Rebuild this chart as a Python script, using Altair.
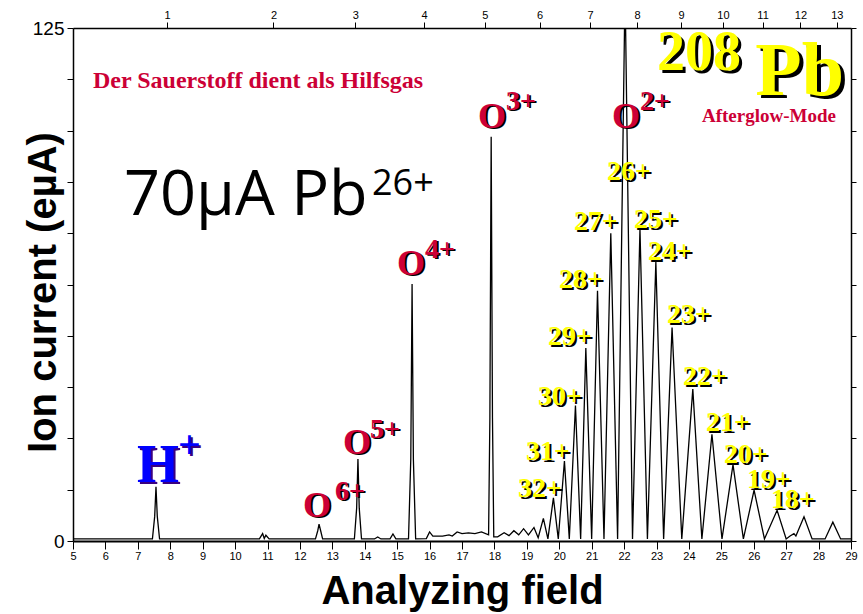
import altair as alt
import pandas as pd

# ---------------- data ----------------
SPEC_FIELD = [5.0,
              7.45, 7.52, 7.56, 7.60, 7.67,
              10.75, 10.85, 10.90, 10.95, 11.05,
              12.48, 12.55, 12.59, 12.64, 12.70,
              13.68, 13.75, 13.79, 13.83, 13.90,
              14.30, 14.40, 14.50, 14.78, 14.87, 14.96,
              15.35, 15.42, 15.46, 15.50, 15.57,
              15.90, 16.00, 16.10, 16.40, 16.60, 16.70, 16.85, 17.00, 17.20, 17.40, 17.60,
              17.82, 17.86, 17.90, 17.94, 17.98,
              18.10, 18.30, 18.45, 18.60, 18.75, 18.90, 19.05,
              19.22, 19.35, 19.51, 19.65, 19.82, 19.97, 20.16, 20.31, 20.50, 20.66,
              20.82, 21.00, 21.18, 21.38, 21.59, 21.80, 22.03, 22.26, 22.49, 22.72,
              22.98, 23.22, 23.48, 23.78, 24.12, 24.40, 24.71, 25.02, 25.36, 25.68,
              26.01, 26.33, 26.72, 27.00, 27.12, 27.24, 27.30, 27.55, 27.80,
              28.20, 28.44, 28.68, 29.0]
SPEC_CURRENT = [0.5,
                0.5, 6.0, 13.2, 6.0, 0.5,
                0.5, 1.8, 0.6, 1.4, 0.5,
                0.5, 2.5, 4.1, 2.5, 0.5,
                0.5, 8.0, 20.0, 8.0, 0.5,
                0.5, 1.0, 0.5, 0.5, 1.7, 0.5,
                0.5, 20.0, 62.6, 20.0, 0.5,
                0.6, 2.2, 1.2, 1.2, 1.5, 1.2, 2.2, 1.8, 2.0, 1.8, 2.2,
                1.5, 30.0, 98.5, 30.0, 1.0,
                1.0, 2.0, 1.3, 2.5, 1.5, 3.0, 1.5,
                3.3, 0.8, 5.5, 0.5, 10.5, 0.5, 19.5, 0.5, 33.0, 0.5,
                47.0, 0.5, 61.0, 0.5, 75.0, 0.5, 135.0, 0.5, 76.0, 0.5,
                68.0, 0.5, 52.0, 0.5, 37.0, 0.5, 26.0, 0.5, 18.6, 0.5,
                12.4, 0.5, 7.5, 0.5, 1.2, 1.8, 1.2, 5.9, 0.5,
                0.5, 4.6, 0.5, 0.5]

BOTTOM_TICKS = list(range(5, 30))
LEFT_TICKS = [0, 12.5, 25, 37.5, 50, 62.5, 75, 87.5, 100, 112.5, 125]
TOP_TICKS = list(range(1, 14))

O_TEXT = ["O", "O", "O", "O", "O"]
O_X = [12.095, 13.329, 14.995, 17.49, 21.627]
O_Y = [5.85, 21.2, 64.8, 100.6, 100.6]
O_SUP = ["6+", "5+", "4+", "3+", "2+"]
O_SUP_X = [13.082, 14.162, 15.859, 18.357, 22.49]
O_SUP_Y = [9.99, 25.1, 69.0, 105.0, 105.0]

H_TEXT = ["H"]
H_X = [6.974]
H_Y = [14.38]
H_SUP = ["+"]
H_SUP_X = [8.239]
H_SUP_Y = [20.2]

PB_TEXT = ["26+", "27+", "25+", "24+", "28+", "23+", "29+", "22+",
           "30+", "21+", "31+", "20+", "32+", "19+", "18+"]
PB_X = [21.473, 20.455, 22.306, 22.738, 19.992, 23.324, 19.653, 23.817,
        19.344, 24.527, 18.974, 25.082, 18.727, 25.792, 26.532]
PB_Y = [87.96, 75.78, 76.27, 68.47, 61.65, 53.12, 47.76, 38.01,
        33.14, 26.80, 19.74, 19.01, 10.72, 12.91, 8.04]

ISO_TEXT = ["208"]
ISO_X = [23.015]
ISO_Y = [114.76]
EL_TEXT = ["Pb"]
EL_X = [26.05]
EL_Y = [108.67]

MODE_TEXT = ["Afterglow-Mode"]
MODE_X = [24.403]
MODE_Y = [102.1]

NOTE_TEXT = ["Der Sauerstoff dient als Hilfsgas"]
NOTE_X = [5.617]
NOTE_Y = [110.38]

BEAM_TEXT = ["70µA Pb"]
BEAM_X = [6.573]
BEAM_Y = [79.43]
BEAM_SUP = ["26+"]
BEAM_SUP_X = [14.224]
BEAM_SUP_Y = [84.31]

# ---------------- encodings ----------------
X_ENC = alt.X(
    "B:Q",
    scale=alt.Scale(domain=[5, 29], nice=False, zero=False),
    axis=alt.Axis(
        orient="bottom", values=BOTTOM_TICKS, format="d", grid=False,
        labelFontSize=11, tickSize=8, labelPadding=1, domainWidth=2,
        labelFlush=False,
        title="Analyzing field", titleFontSize=40, titleFontWeight="bold",
        titleBaseline="alphabetic", titleY=62,
    ),
)
Y_ENC = alt.Y(
    "I:Q",
    scale=alt.Scale(domain=[0, 125], nice=False, zero=True),
    axis=alt.Axis(
        orient="left", values=LEFT_TICKS, grid=False,
        labelExpr="datum.value == 0 || datum.value == 125 ? datum.label : ''",
        labelFontSize=19, tickSize=6, labelPadding=3, domainWidth=1.5,
        title="Ion current (eµA)", titleFontSize=40, titleFontWeight="bold",
        titleAngle=270, titleAlign="center", titleBaseline="alphabetic",
        titleX=-18, titleY=264,
    ),
)

spec_df = pd.DataFrame({"B": SPEC_FIELD, "I": SPEC_CURRENT})
line = alt.Chart(spec_df).mark_line(color="black", strokeWidth=1.3, clip=True).encode(
    x=X_ENC, y=Y_ENC
)


def text_layer(texts, xs, ys, size, color, font="Liberation Serif", weight="bold", dx=0, dy=0):
    df = pd.DataFrame({"t": texts, "B": xs, "I": ys})
    return alt.Chart(df).mark_text(
        align="left", baseline="alphabetic", font=font, fontWeight=weight,
        fontSize=size, color=color, dx=dx, dy=dy,
    ).encode(x=X_ENC, y=Y_ENC, text="t:N")


CRIMSON = "#cc0036"
YELLOW = "#ffff00"

layers = [line]
# H+
layers += [text_layer(H_TEXT, H_X, H_Y, 54, "#3a0080", dx=2, dy=2),
           text_layer(H_TEXT, H_X, H_Y, 54, "#0000ff"),
           text_layer(H_SUP, H_SUP_X, H_SUP_Y, 40, "#3a0080", dx=2, dy=2),
           text_layer(H_SUP, H_SUP_X, H_SUP_Y, 40, "#0000ff")]
# Oxygen
layers += [text_layer(O_TEXT, O_X, O_Y, 36, "black", dx=2, dy=1),
           text_layer(O_TEXT, O_X, O_Y, 36, CRIMSON),
           text_layer(O_SUP, O_SUP_X, O_SUP_Y, 28, "black", dx=2, dy=1),
           text_layer(O_SUP, O_SUP_X, O_SUP_Y, 28, CRIMSON)]
# Pb charge states
layers += [text_layer(PB_TEXT, PB_X, PB_Y, 28, "black", dx=2, dy=2),
           text_layer(PB_TEXT, PB_X, PB_Y, 28, YELLOW)]
# 208 Pb
layers += [text_layer(ISO_TEXT, ISO_X, ISO_Y, 56, "black", dx=3, dy=3),
           text_layer(ISO_TEXT, ISO_X, ISO_Y, 56, YELLOW),
           text_layer(EL_TEXT, EL_X, EL_Y, 76, "black", dx=4, dy=3),
           text_layer(EL_TEXT, EL_X, EL_Y, 76, YELLOW)]
layers += [text_layer(MODE_TEXT, MODE_X, MODE_Y, 19, CRIMSON),
           text_layer(NOTE_TEXT, NOTE_X, NOTE_Y, 24, CRIMSON)]
layers += [text_layer(BEAM_TEXT, BEAM_X, BEAM_Y, 63, "black", font="Open Sans", weight="normal"),
           text_layer(BEAM_SUP, BEAM_SUP_X, BEAM_SUP_Y, 36, "black", font="Open Sans", weight="normal")]

main = alt.layer(*layers)

top_df = pd.DataFrame({"aq": TOP_TICKS, "I": [0] * len(TOP_TICKS)})
top = alt.Chart(top_df).mark_point(opacity=0).encode(
    x=alt.X("aq:Q",
            scale=alt.Scale(type="sqrt", domain=[0.4025, 13.40], nice=False, zero=False),
            axis=alt.Axis(orient="top", values=TOP_TICKS, format="d", title=None, grid=False,
                          labelFontSize=11, tickSize=6, labelPadding=2, domainWidth=1.5,
                          labelFlush=False)),
    y=alt.Y("I:Q",
            scale=alt.Scale(domain=[0, 125], nice=False),
            axis=alt.Axis(orient="right", values=LEFT_TICKS, labels=False, title=None,
                          grid=False, tickSize=5, domainWidth=1.5)),
)

chart = alt.layer(main, top).resolve_scale(x="independent", y="independent").properties(
    width=778, height=513,
    padding={"left": 73, "top": 28, "right": 12, "bottom": 73},
    autosize=alt.AutoSizeParams(type="none"),
    background="white",
).configure_axis(
    labelFont="Liberation Sans", titleFont="Liberation Sans",
    domainColor="black", tickColor="black", labelColor="black", titleColor="black",
).configure_view(stroke=None)

chart.save("out.html", embed_options={"renderer": "svg", "actions": False})
